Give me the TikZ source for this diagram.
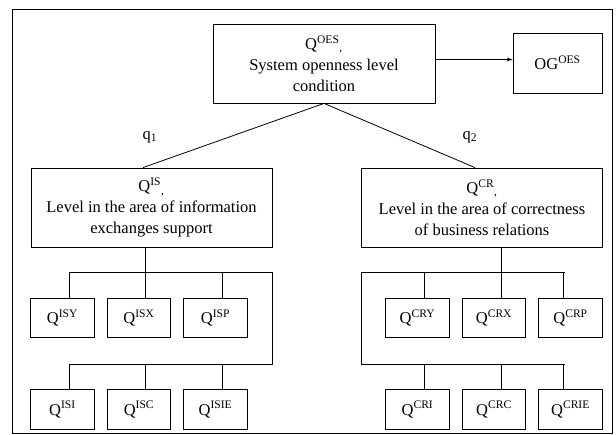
\documentclass[tikz,border=0pt]{standalone}
\usepackage{fontspec}
\setmainfont{Liberation Serif}
\begin{document}
\begin{tikzpicture}[x=1pt, y=-1pt, node distance=76.5pt, >=latex, line width=0.8pt]
    \tikzstyle{level}=[draw, rectangle, inner sep=0pt, minimum width=241pt, minimum height=79pt, align=center, font=\fontsize{16.5}{21}\selectfont]
    \tikzstyle{leaf}=[draw, rectangle, inner sep=0pt, minimum width=63.5pt, minimum height=39.5pt, font=\fontsize{16.5}{21}\selectfont]
    \tikzstyle{weight}=[inner sep=0pt, font=\fontsize{16.5}{21}\selectfont]

    \useasboundingbox (0,0) rectangle (616,435);
    \draw (12,9) rectangle (612,433);

    \node[level, minimum width=222pt] (oes) at (324,63.5) {Q\textsuperscript{OES}\textsubscript{,}\\System openness level\\condition};
    \node[leaf, minimum width=89pt, minimum height=60pt] (og) at (557.5,63) {OG\textsuperscript{OES}};
    \node[level] (is) at (151.5,207.5) {Q\textsuperscript{IS}\textsubscript{,}\\Level in the area of information\\exchanges support};
    \node[level] (cr) at (482,207.5) {Q\textsuperscript{CR}\textsubscript{,}\\Level in the area of correctness\\of business relations};
    \node[weight] (q1) at (150,137) {q\textsubscript{1}};
    \node[weight] (q2) at (470,137) {q\textsubscript{2}};

    \node[leaf] (isy) at (62.5,318) {Q\textsuperscript{ISY}};
    \node[leaf, right of=isy] (isx) {Q\textsuperscript{ISX}};
    \node[leaf, right of=isx] (isp) {Q\textsuperscript{ISP}};
    \node[leaf] (isi) at (62.5,409.5) {Q\textsuperscript{ISI}};
    \node[leaf, right of=isi] (isc) {Q\textsuperscript{ISC}};
    \node[leaf, right of=isc] (isie) {Q\textsuperscript{ISIE}};

    \node[leaf] (cry) at (417.5,318) {Q\textsuperscript{CRY}};
    \node[leaf, right of=cry] (crx) {Q\textsuperscript{CRX}};
    \node[leaf, right of=crx] (crp) {Q\textsuperscript{CRP}};
    \node[leaf] (cri) at (417.5,409.5) {Q\textsuperscript{CRI}};
    \node[leaf, right of=cri] (crc) {Q\textsuperscript{CRC}};
    \node[leaf, right of=crc] (crie) {Q\textsuperscript{CRIE}};

    \draw[->] ([yshift=4pt]oes.east) -- ([yshift=4pt]oes.east -| og.west);
    \draw (oes.south) -- ([xshift=-8.5pt]is.north);
    \draw (oes.south) -- ([xshift=-7pt]cr.north);

    % bus lines under the two levels
    \coordinate (is top) at (69,272);
    \coordinate (is bottom) at (69,364);
    \coordinate (cr top) at (564,272);
    \coordinate (cr bottom) at (564,364);
    \draw (is top) -- (272,272) -- (272,364) -- (is bottom);
    \draw (cr top) -- (361,272) -- (361,364) -- (cr bottom);
    \draw ([xshift=-6.5pt]is.south) -- ++(0,25);
    \draw ([xshift=19pt]cr.south) -- ++(0,25);

    \foreach \n in {isy,isx,isp}
        \draw ([xshift=6.5pt]\n.north) |- (is top);
    \foreach \n in {isi,isc,isie}
        \draw ([xshift=6.5pt]\n.north) |- (is bottom);
    \foreach \n/\s in {cry/6.5,crx/7,crp/-7}
        \draw ([xshift=\s pt]\n.north) |- (cr top);
    \foreach \n/\s in {cri/6.5,crc/7,crie/-7}
        \draw ([xshift=\s pt]\n.north) |- (cr bottom);
\end{tikzpicture}
\end{document}
